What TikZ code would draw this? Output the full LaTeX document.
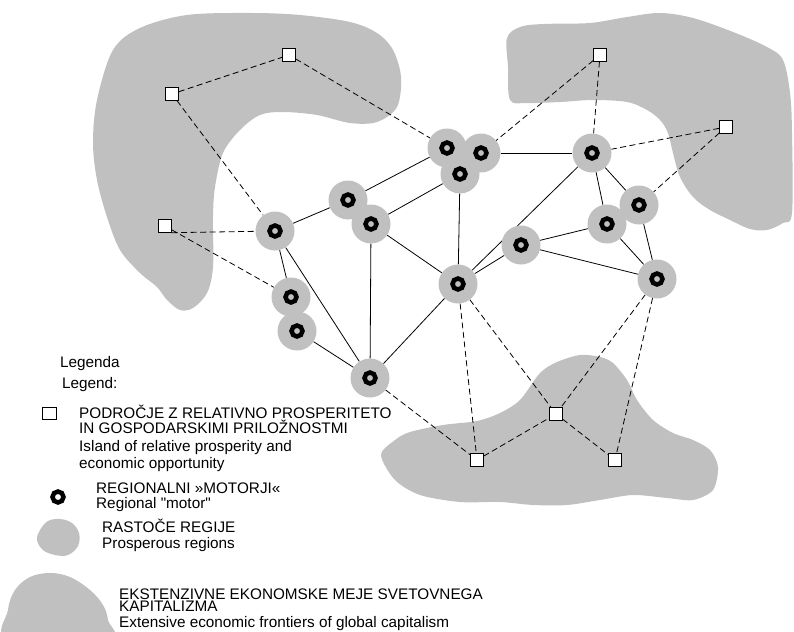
\documentclass[tikz,border=0pt]{standalone}
\usepackage{fontspec}
\setmainfont{Liberation Sans}[Ligatures=TeXOff]
\pgfdeclarelayer{regions}
\pgfdeclarelayer{links}
\pgfsetlayers{regions,links,main}
\definecolor{regiongrey}{RGB}{192,192,192}
\tikzset{
  frontier/.style={fill=regiongrey, draw=none},
  motor/.style={circle, fill=regiongrey, minimum size=39pt, inner sep=0pt,
    path picture={\draw[line width=4.5pt] (path picture bounding box.center) circle (5.5pt);}},
  motorring/.style={circle, draw, line width=4.5pt, minimum size=11pt, inner sep=0pt},
  island/.style={draw, fill=white, line width=0.9pt, minimum size=12.5pt, inner sep=0pt},
  tie/.style={line width=0.8pt},
  reach/.style={line width=0.8pt, dash pattern=on 6pt off 3.5pt},
  legendtext/.style={anchor=base west, inner sep=0pt, font=\fontsize{15.3}{12}\selectfont},
  legendcaps/.style={anchor=north west, inner sep=0pt, align=left,
    font=\fontsize{15.3}{12.6}\selectfont},
}
\begin{document}
\begin{tikzpicture}[x=1pt, y=-1pt]
\useasboundingbox (0,0) rectangle (794,631);

% extensive economic frontiers
\begin{pgfonlayer}{regions}
\fill[frontier] plot[smooth cycle, tension=0.55] coordinates {
  (93,143) (97,100) (113,50) (140,28) (187,15) (250,13) (300,15) (350,22)
  (377,33) (393,50) (401,77) (397,107) (377,122) (350,123) (317,115) (283,112)
  (260,115) (240,130) (223,153) (215,187) (213,217) (213,267) (207,293)
  (193,308) (180,310) (167,300) (157,287) (140,273) (120,250) (107,217) (97,180)};
\fill[frontier] plot[smooth cycle, tension=0.55] coordinates {
  (507,38) (520,27) (543,24) (590,23) (627,17) (660,13) (693,18) (733,32)
  (767,47) (783,60) (790,93) (792,133) (792,213) (783,223) (767,230) (750,229)
  (730,220) (710,210) (693,197) (680,177) (673,153) (668,133) (660,120)
  (647,110) (627,102) (593,100) (560,102) (527,103) (510,100) (508,67)};
\fill[frontier] plot[smooth cycle, tension=0.5] coordinates {
  (381,455) (395,440) (410,432) (443,425) (477,421) (500,413) (520,400)
  (540,373) (557,362) (580,355) (600,357) (613,363) (627,380) (637,400)
  (653,420) (673,433) (693,440) (710,450) (718,467) (713,490) (693,500)
  (667,498) (633,495) (600,500) (567,505) (533,505) (500,502) (460,502)
  (420,495) (395,480)};
% legend samples of regions
\fill[frontier] plot[smooth cycle, tension=0.6] coordinates {
  (40,530) (48,521) (60,519) (72,523) (79,533) (78,546) (68,555) (55,555) (43,550) (37,540)};
\fill[frontier] plot[smooth cycle, tension=0.6] coordinates {
  (9,640) (8,610) (15,590) (30,577) (50,573) (70,577) (90,590) (103,605) (108,620) (108,640)};
\end{pgfonlayer}

% islands of relative prosperity
\node[island] (S1) at (289,55) {};
\node[island] (S2) at (172,94) {};
\node[island] (S3) at (165,226) {};
\node[island] (S4) at (600,55) {};
\node[island] (S5) at (726,127) {};
\node[island] (S6) at (477,460) {};
\node[island] (S7) at (556,414) {};
\node[island] (S8) at (615,460) {};

% regional motors within prosperous regions
\node[motor] (M1) at (275,231) {};
\node[motor] (M2) at (291,297) {};
\node[motor] (M3) at (297,331) {};
\node[motor] (M4) at (370,378) {};
\node[motor] (M5) at (348,200) {};
\node[motor] (M6) at (371,224) {};
\node[motor] (M7) at (447,148) {};
\node[motor] (M8) at (481,153) {};
\node[motor] (M9) at (460,174) {};
\node[motor] (M10) at (458,284) {};
\node[motor] (M11) at (521,245) {};
\node[motor] (M12) at (592,153) {};
\node[motor] (M13) at (607,224) {};
\node[motor] (M14) at (639,205) {};
\node[motor] (M15) at (657,279) {};

\begin{pgfonlayer}{links}
% links between motors
\draw[tie] (M1) -- (M5);
\draw[tie] (M5) -- (M7);
\draw[tie] (M6) -- (M9);
\draw[tie] (M6) -- (M10);
\draw[tie] (M6) -- (M4);
\draw[tie] (M9) -- (M10);
\draw[tie] (M1) -- (M2);
\draw[tie] (M1) -- (M4);
\draw[tie] (M3) -- (M4);
\draw[tie] (M4) -- (M10);
\draw[tie] (M10) -- (M12);
\draw[tie] (M10) -- (M11);
\draw[tie] (M8) -- (M12);
\draw[tie] (M11) -- (M13);
\draw[tie] (M11) -- (M15);
\draw[tie] (M12) -- (M13);
\draw[tie] (M12) -- (M14);
\draw[tie] (M13) -- (M15);
\draw[tie] (M14) -- (M15);
% reach towards the islands
\draw[reach] (S2) -- (S1);
\draw[reach] (S1) -- (M7);
\draw[reach] (S2) -- (M1);
\draw[reach] (S3.south east) -- (M1);
\draw[reach] (S3) -- (M2);
\draw[reach] (S4) -- (M8);
\draw[reach] (S4) -- (M12);
\draw[reach] (S5) -- (M12);
\draw[reach] (S5) -- (M14);
\draw[reach] (M10) -- (S6);
\draw[reach] (M10) -- (S7);
\draw[reach] (M4) -- (S6);
\draw[reach] (S6) -- (S7);
\draw[reach] (S7) -- (S8);
\draw[reach] (M15) -- (S7);
\draw[reach] (M15) -- (S8);
\end{pgfonlayer}

% legend
\node[legendtext] (lg1) at (60,367) {Legenda};
\node[legendtext] (lg2) at (62,388) {Legend:};
\node[island, minimum width=14pt, minimum height=12pt] (ls) at (49,413) {};
\node[legendcaps] (li1) at (79,405) {PODROČJE Z RELATIVNO PROSPERITETO\\IN GOSPODARSKIMI PRILOŽNOSTMI};
\node[legendtext] (li3) at (79,451) {Island of relative prosperity and};
\node[legendtext] (li4) at (79,468) {economic opportunity};
\node[motorring] (lm) at (58,497) {};
\node[legendtext] (lm1) at (96,493) {REGIONALNI »MOTORJI«};
\node[legendtext] (lm2) at (96,508) {Regional "motor"};
\node[legendtext] (lr1) at (102,532) {RASTOČE REGIJE};
\node[legendtext] (lr2) at (102,548) {Prosperous regions};
\node[legendcaps] (lf1) at (119,588.5) {EKSTENZIVNE EKONOMSKE MEJE SVETOVNEGA\\KAPITALIZMA};
\node[legendtext] (lf3) at (119,627.5) {Extensive economic frontiers of global capitalism};
\end{tikzpicture}
\end{document}
